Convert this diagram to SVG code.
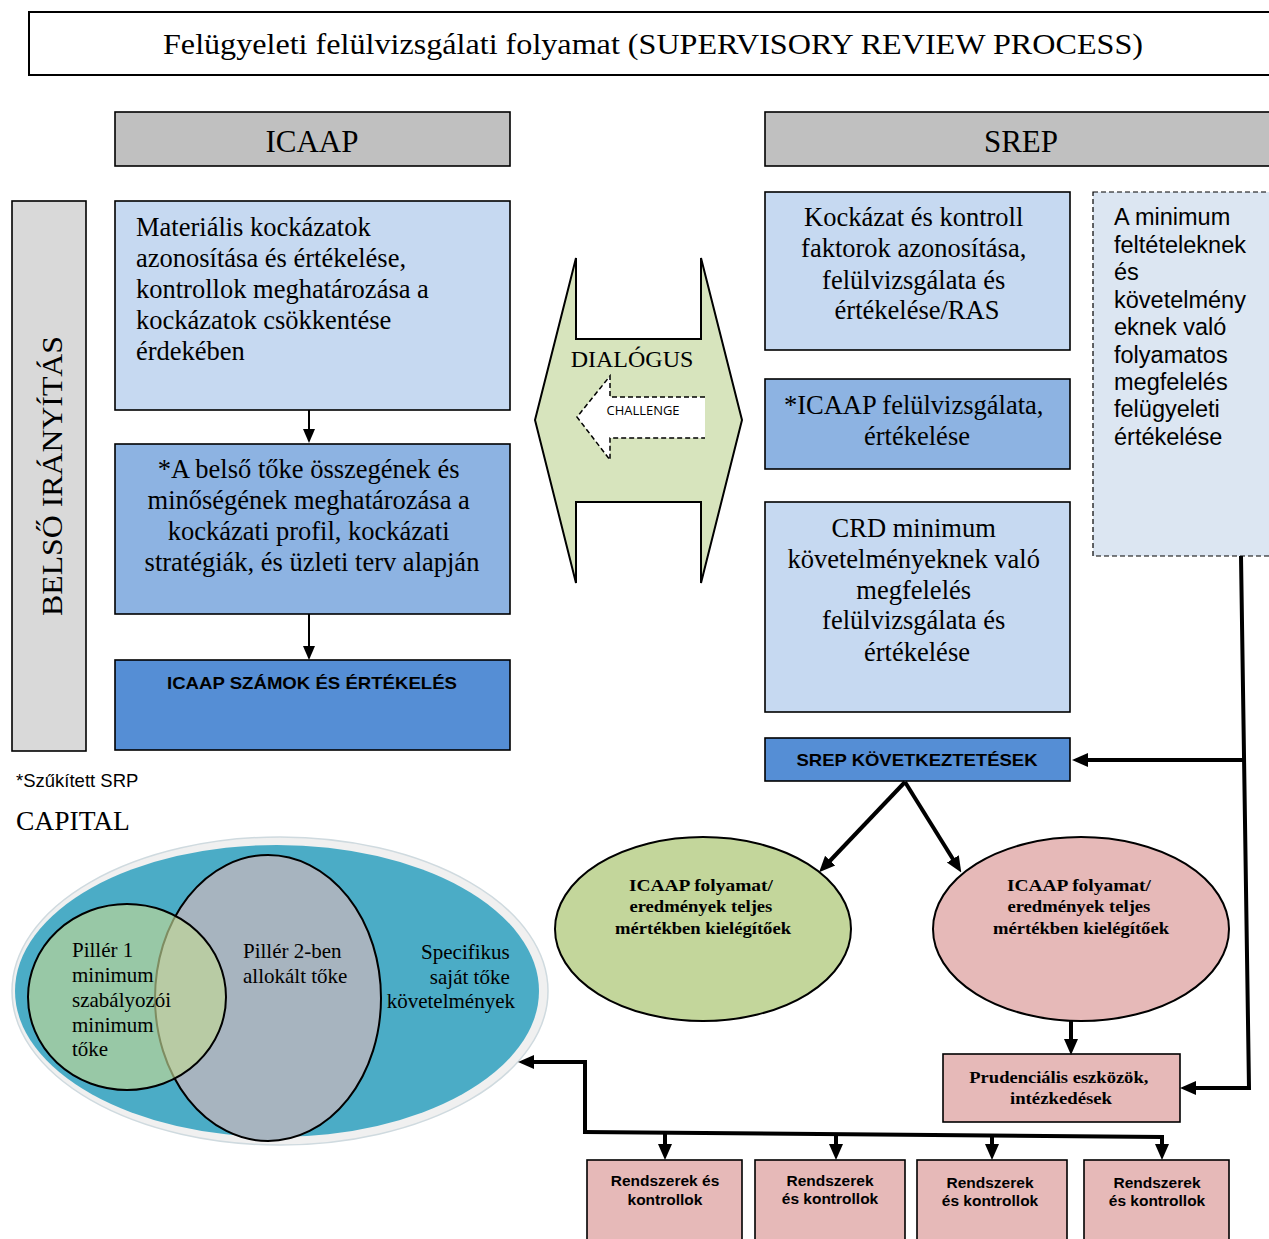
<svg xmlns="http://www.w3.org/2000/svg" width="1269" height="1239" viewBox="0 0 1269 1239">
<style>
.serif{font-family:"Liberation Serif","Times New Roman",serif;fill:#000}
.sans{font-family:"Liberation Sans",Arial,sans-serif;fill:#000}
.box{stroke:#000;stroke-width:1.6}
.c{text-anchor:middle}
.r{text-anchor:end}
.b{font-weight:bold}
.t24{font-size:26.5px}
.conn{fill:none;stroke:#000;stroke-width:4}
.thin{fill:none;stroke:#000;stroke-width:2}
</style>
<defs>
<marker id="big" viewBox="0 0 16 16" markerWidth="16" markerHeight="16" markerUnits="userSpaceOnUse" refX="6" refY="8" orient="auto">
<path d="M0,1 L16,8 L0,15 z" fill="#000"/>
</marker>
<marker id="small" viewBox="0 0 14 14" markerWidth="14" markerHeight="14" markerUnits="userSpaceOnUse" refX="4" refY="7" orient="auto">
<path d="M0,1 L14,7 L0,13 z" fill="#000"/>
</marker>
</defs>
<rect width="1269" height="1239" fill="#fff"/>

<g id="title">
<rect x="29" y="12" width="1260" height="63" fill="#fff" stroke="#000" stroke-width="2"/>
<text x="653" y="54" class="serif c" font-size="30" textLength="980" lengthAdjust="spacingAndGlyphs">Felügyeleti felülvizsgálati folyamat (SUPERVISORY REVIEW PROCESS)</text>
</g>

<g id="icaap-header">
<rect x="115" y="112" width="395" height="54" fill="#c0c0c0" class="box"/>
<text x="312" y="152" class="serif c" font-size="31">ICAAP</text>
</g>

<g id="srep-header">
<rect x="765" y="112" width="520" height="54" fill="#c0c0c0" class="box"/>
<text x="1021" y="152" class="serif c" font-size="31">SREP</text>
</g>

<g id="belso-iranyitas">
<rect x="12" y="201" width="74" height="550" fill="#d9d9d9" class="box"/>
<text transform="translate(62,476) rotate(-90)" class="serif c" font-size="29" textLength="280" lengthAdjust="spacingAndGlyphs">BELSŐ IRÁNYÍTÁS</text>
</g>

<g id="icaap-box1">
<rect x="115" y="201" width="395" height="209" fill="#c6d9f1" class="box"/>
<text class="serif t24">
<tspan x="136" y="236">Materiális kockázatok</tspan>
<tspan x="136" y="267">azonosítása és értékelése,</tspan>
<tspan x="136" y="298">kontrollok meghatározása a</tspan>
<tspan x="136" y="329">kockázatok csökkentése</tspan>
<tspan x="136" y="360">érdekében</tspan>
</text>
</g>

<g id="icaap-box2">
<rect x="115" y="444" width="395" height="170" fill="#8db3e2" class="box"/>
<text class="serif t24 c">
<tspan x="312" y="478">*A belső tőke összegének és</tspan>
<tspan x="312" y="509">minőségének meghatározása a</tspan>
<tspan x="312" y="540">kockázati profil, kockázati</tspan>
<tspan x="312" y="571">stratégiák, és üzleti terv alapján</tspan>
</text>
</g>

<g id="icaap-box3">
<rect x="115" y="660" width="395" height="90" fill="#558ed5" class="box"/>
<text x="312" y="689" class="sans b c" font-size="17" textLength="290" lengthAdjust="spacingAndGlyphs">ICAAP SZÁMOK ÉS ÉRTÉKELÉS</text>
</g>

<g id="note">
<text x="16" y="787" class="sans" font-size="18.5">*Szűkített SRP</text>
<text x="16" y="830" class="serif" font-size="27.5">CAPITAL</text>
</g>

<g id="dialogus">
<path d="M535,420 L576,258 L576,339 L701,339 L701,258 L742,420 L701,583 L701,502 L576,502 L576,583 Z" fill="#d7e4bd" stroke="#000" stroke-width="2"/>
<text x="632" y="367" class="serif c" font-size="24">DIALÓGUS</text>
<polygon points="577,417 610,376 610,397 705,397 705,438 610,438 610,460" fill="#fff"/>
<polyline points="705,397 610,397 610,376 577,417 610,460 610,438 705,438" fill="none" stroke="#000" stroke-width="1.5" stroke-dasharray="5,3"/>
<text x="643" y="415" font-family="'Open Sans','Liberation Sans',sans-serif" font-size="12.5" text-anchor="middle" textLength="73" lengthAdjust="spacingAndGlyphs" fill="#000">CHALLENGE</text>
</g>

<g id="srep-box1">
<rect x="765" y="192" width="305" height="158" fill="#c6d9f1" class="box"/>
<text class="serif t24 c">
<tspan x="917" y="226">Kockázat és kontroll</tspan>
<tspan x="917" y="257">faktorok azonosítása,</tspan>
<tspan x="917" y="289">felülvizsgálata és</tspan>
<tspan x="917" y="319">értékelése/RAS</tspan>
</text>
</g>

<g id="srep-box2">
<rect x="765" y="379" width="305" height="90" fill="#8db3e2" class="box"/>
<text class="serif t24 c">
<tspan x="917" y="414">*ICAAP felülvizsgálata,</tspan>
<tspan x="917" y="445">értékelése</tspan>
</text>
</g>

<g id="srep-box3">
<rect x="765" y="502" width="305" height="210" fill="#c6d9f1" class="box"/>
<text class="serif t24 c">
<tspan x="917" y="537">CRD minimum</tspan>
<tspan x="917" y="568">követelményeknek való</tspan>
<tspan x="917" y="599">megfelelés</tspan>
<tspan x="917" y="629">felülvizsgálata és</tspan>
<tspan x="917" y="661">értékelése</tspan>
</text>
</g>

<g id="srep-dashed">
<rect x="1093" y="192" width="190" height="364" fill="#dce6f2" stroke="#000" stroke-width="1.2" stroke-dasharray="5,3"/>
<text class="sans" font-size="23.5">
<tspan x="1114" y="225">A minimum</tspan>
<tspan x="1114" y="253">feltételeknek</tspan>
<tspan x="1114" y="280">és</tspan>
<tspan x="1114" y="308">követelmény</tspan>
<tspan x="1114" y="335">eknek való</tspan>
<tspan x="1114" y="363">folyamatos</tspan>
<tspan x="1114" y="390">megfelelés</tspan>
<tspan x="1114" y="417">felügyeleti</tspan>
<tspan x="1114" y="445">értékelése</tspan>
</text>
</g>

<g id="srep-kovetkeztetesek">
<rect x="765" y="738" width="305" height="43" fill="#558ed5" class="box"/>
<text x="917" y="766" class="sans b c" font-size="17" textLength="241" lengthAdjust="spacingAndGlyphs">SREP KÖVETKEZTETÉSEK</text>
</g>

<g id="ellipse-green">
<ellipse cx="703" cy="929" rx="148" ry="92" fill="#c3d69b" stroke="#000" stroke-width="2"/>
<text class="serif b c" font-size="17">
<tspan x="703" y="891" textLength="144" lengthAdjust="spacingAndGlyphs">ICAAP  folyamat/</tspan>
<tspan x="703" y="912" textLength="143" lengthAdjust="spacingAndGlyphs">eredmények teljes</tspan>
<tspan x="703" y="934" textLength="176" lengthAdjust="spacingAndGlyphs">mértékben kielégítőek</tspan>
</text>
</g>

<g id="ellipse-pink">
<ellipse cx="1081" cy="929" rx="148" ry="92" fill="#e6b9b8" stroke="#000" stroke-width="2"/>
<text class="serif b c" font-size="17">
<tspan x="1081" y="891" textLength="144" lengthAdjust="spacingAndGlyphs">ICAAP  folyamat/</tspan>
<tspan x="1081" y="912" textLength="143" lengthAdjust="spacingAndGlyphs">eredmények teljes</tspan>
<tspan x="1081" y="934" textLength="176" lengthAdjust="spacingAndGlyphs">mértékben kielégítőek</tspan>
</text>
</g>

<g id="prudencialis">
<rect x="943" y="1054" width="237" height="68" fill="#e6b9b8" class="box"/>
<text class="serif b c" font-size="17.5">
<tspan x="1061" y="1083" textLength="179" lengthAdjust="spacingAndGlyphs">Prudenciális eszközök,</tspan>
<tspan x="1061" y="1104" textLength="102" lengthAdjust="spacingAndGlyphs">intézkedések</tspan>
</text>
</g>

<g id="rendszerek-1">
<rect x="587" y="1160" width="155" height="90" fill="#e6b9b8" class="box"/>
<text class="sans b c" font-size="15.5"><tspan x="665" y="1186">Rendszerek és</tspan><tspan x="665" y="1205">kontrollok</tspan></text>
</g>
<g id="rendszerek-2">
<rect x="755" y="1160" width="150" height="90" fill="#e6b9b8" class="box"/>
<text class="sans b c" font-size="15.5"><tspan x="830" y="1186">Rendszerek</tspan><tspan x="830" y="1204">és kontrollok</tspan></text>
</g>
<g id="rendszerek-3">
<rect x="917" y="1160" width="150" height="90" fill="#e6b9b8" class="box"/>
<text class="sans b c" font-size="15.5"><tspan x="990" y="1188">Rendszerek</tspan><tspan x="990" y="1206">és kontrollok</tspan></text>
</g>
<g id="rendszerek-4">
<rect x="1084" y="1160" width="145" height="90" fill="#e6b9b8" class="box"/>
<text class="sans b c" font-size="15.5"><tspan x="1157" y="1188">Rendszerek</tspan><tspan x="1157" y="1206">és kontrollok</tspan></text>
</g>

<g id="capital">
<ellipse cx="280" cy="991" rx="268" ry="154" fill="#f0f0f0" stroke="#cfdadf" stroke-width="1.5"/>
<ellipse cx="277" cy="991" rx="262" ry="146" fill="#4bacc6"/>
<ellipse cx="268" cy="998" rx="113" ry="143" fill="#a7b4bf" stroke="#000" stroke-width="2"/>
<ellipse cx="127" cy="997" rx="99" ry="93" fill="#c1d795" fill-opacity="0.65" stroke="#000" stroke-width="2"/>
<text class="serif" font-size="21">
<tspan x="72" y="957">Pillér 1</tspan>
<tspan x="72" y="982">minimum</tspan>
<tspan x="72" y="1007">szabályozói</tspan>
<tspan x="72" y="1032">minimum</tspan>
<tspan x="72" y="1056">tőke</tspan>
</text>
<text class="serif" font-size="21">
<tspan x="243" y="958">Pillér 2-ben</tspan>
<tspan x="243" y="983">allokált tőke</tspan>
</text>
<text class="serif r" font-size="21">
<tspan x="515" y="959">Specifikus</tspan>
<tspan x="515" y="984">saját tőke</tspan>
<tspan x="515" y="1008">követelmények</tspan>
</text>
</g>

<g id="connectors">
<line x1="309" y1="410" x2="309" y2="433" class="thin" marker-end="url(#small)"/>
<line x1="309" y1="614" x2="309" y2="650" class="thin" marker-end="url(#small)"/>
<path d="M1241,556 L1249,1088 L1190,1088" class="conn" marker-end="url(#big)"/>
<path d="M1244,760 L1082,760" class="conn" marker-end="url(#big)"/>
<path d="M905,782 L826,865" class="conn" marker-end="url(#big)"/>
<path d="M905,782 L956,864" class="conn" marker-end="url(#big)"/>
<path d="M1071,1021 L1071,1045" class="conn" marker-end="url(#big)"/>
<path d="M585,1133 L585,1062 L528,1062" class="conn" marker-end="url(#big)"/>
<path d="M583,1132 L1162,1137 L1162,1150" class="conn" marker-end="url(#big)"/>
<path d="M665,1133 L665,1150" class="conn" marker-end="url(#big)"/>
<path d="M836,1134 L836,1150" class="conn" marker-end="url(#big)"/>
<path d="M992,1135 L992,1150" class="conn" marker-end="url(#big)"/>
</g>
</svg>
